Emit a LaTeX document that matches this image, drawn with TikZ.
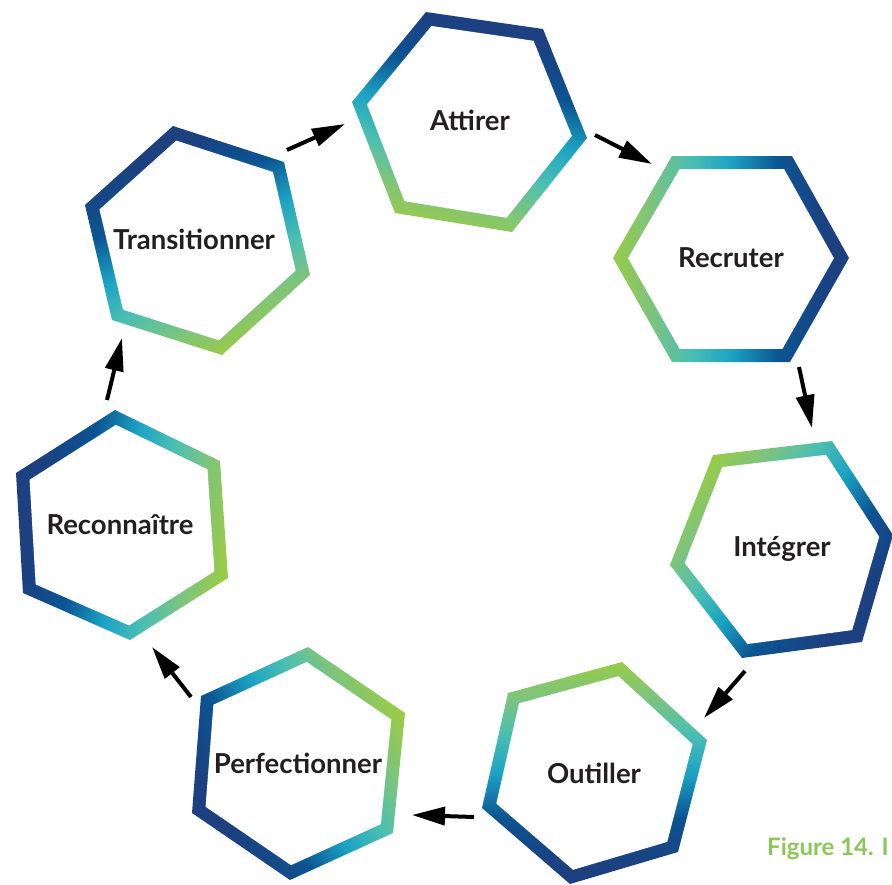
\documentclass[tikz,border=0pt]{standalone}
\usepackage{fontspec}
\setmainfont{Lato}
\usetikzlibrary{arrows.meta,calc}
\definecolor{hgreen}{RGB}{152,203,72}
\definecolor{hlgreen}{RGB}{125,196,125}
\definecolor{hteal}{RGB}{76,191,176}
\definecolor{hcyan}{RGB}{28,163,196}
\definecolor{hblue}{RGB}{12,84,146}
\definecolor{hnavy}{RGB}{28,64,128}
\definecolor{txt}{RGB}{35,31,32}
\definecolor{figgreen}{RGB}{140,198,90}
\pgfdeclarehorizontalshading{hexgrad}{100bp}{color(0bp)=(hgreen); color(25bp)=(hgreen); color(33bp)=(hlgreen); color(41bp)=(hteal); color(50bp)=(hcyan); color(60bp)=(hblue); color(71bp)=(hnavy); color(100bp)=(hnavy)}
\newcommand\inr{0.872}
\newcommand\HexRing[3]{%
  \shade[shading=hexgrad, shading angle=#2] (#1-1)--(#1-2)--(#1-3)--(#1-4)--(#1-5)--(#1-6)--cycle;
  \fill[white] ($(#1-c)!\inr!(#1-1)$)--($(#1-c)!\inr!(#1-2)$)--($(#1-c)!\inr!(#1-3)$)--($(#1-c)!\inr!(#1-4)$)--($(#1-c)!\inr!(#1-5)$)--($(#1-c)!\inr!(#1-6)$)--cycle;
}
\tikzset{
  lbl/.style={text=txt, font=\fontsize{27.5}{32}\selectfont\bfseries, inner sep=0pt},
  flow/.style={line width=4pt, black, -{Triangle[length=33pt,width=18pt]}},
}
\begin{document}
\begin{tikzpicture}[x=1pt,y=-1pt]
\useasboundingbox (0,0) rectangle (892,884);
% Attirer
\coordinate (h1-1) at (426,12); \coordinate (h1-2) at (543,29); \coordinate (h1-3) at (587,138);
\coordinate (h1-4) at (512,232); \coordinate (h1-5) at (395,213); \coordinate (h1-6) at (352,102);
\coordinate (h1-c) at (469,121);
% Recruter
\coordinate (h2-1) at (672,156); \coordinate (h2-2) at (792,156); \coordinate (h2-3) at (849,258);
\coordinate (h2-4) at (790,362); \coordinate (h2-5) at (672,362); \coordinate (h2-6) at (613,258);
\coordinate (h2-c) at (731,259);
% Integrer
\coordinate (h3-1) at (713,455); \coordinate (h3-2) at (832,441); \coordinate (h3-3) at (893,535);
\coordinate (h3-4) at (862,642); \coordinate (h3-5) at (742,658); \coordinate (h3-6) at (670,565);
\coordinate (h3-c) at (785,549);
% Outiller
\coordinate (h4-1) at (622,662); \coordinate (h4-2) at (707,740); \coordinate (h4-3) at (678,852);
\coordinate (h4-4) at (570,884); \coordinate (h4-5) at (482,808); \coordinate (h4-6) at (508,693);
\coordinate (h4-c) at (594,773);
% Perfectionner
\coordinate (h5-1) at (308,647); \coordinate (h5-2) at (405,713); \coordinate (h5-3) at (393,833);
\coordinate (h5-4) at (290,880); \coordinate (h5-5) at (192,813); \coordinate (h5-6) at (201,696);
\coordinate (h5-c) at (298,764);
% Reconnaitre
\coordinate (h6-1) at (115,410); \coordinate (h6-2) at (220,461); \coordinate (h6-3) at (228,578);
\coordinate (h6-4) at (130,640); \coordinate (h6-5) at (23,593); \coordinate (h6-6) at (16,473);
\coordinate (h6-c) at (122,526);
% Transitionner
\coordinate (h7-1) at (173,126); \coordinate (h7-2) at (284,162); \coordinate (h7-3) at (310,275);
\coordinate (h7-4) at (222,355); \coordinate (h7-5) at (112,320); \coordinate (h7-6) at (85,205);
\coordinate (h7-c) at (198,240);

\HexRing{h1}{75}{}
\HexRing{h2}{0}{}
\HexRing{h3}{-40}{}
\HexRing{h4}{-90}{}
\HexRing{h5}{210}{}
\HexRing{h6}{170}{}
\HexRing{h7}{115}{}

\node[lbl] (attirer) at (470,120) {Attirer};
\node[lbl] (recruter) at (731,258) {Recruter};
\node[lbl] (integrer) at (782,549) {Intégrer};
\node[lbl] (outiller) at (594,773) {Outiller};
\node[lbl] (perfectionner) at (298,763) {Perfectionner};
\node[lbl] (reconnaitre) at (120,525) {Reconnaître};
\node[lbl] (transitionner) at (194,239) {Transitionner};

\coordinate (a1s) at (287,150); \coordinate (a1e) at (345,124);
\coordinate (a2s) at (595,135); \coordinate (a2e) at (652,164);
\coordinate (a3s) at (799,367); \coordinate (a3e) at (812,428);
\coordinate (a4s) at (745,671); \coordinate (a4e) at (704,718);
\coordinate (a5s) at (474,817); \coordinate (a5e) at (412,815);
\coordinate (a6s) at (191,697); \coordinate (a6e) at (152,647);
\coordinate (a7s) at (107,400); \coordinate (a7e) at (122,338);
\draw[flow] (a1s) -- (a1e);
\draw[flow] (a2s) -- (a2e);
\draw[flow] (a3s) -- (a3e);
\draw[flow] (a4s) -- (a4e);
\draw[flow] (a5s) -- (a5e);
\draw[flow] (a6s) -- (a6e);
\draw[flow] (a7s) -- (a7e);

\node[anchor=base west, inner sep=0pt, text=figgreen, font=\fontsize{24}{28}\selectfont\bfseries] (fig) at (767,855) {Figure 14. I};
\end{tikzpicture}
\end{document}
